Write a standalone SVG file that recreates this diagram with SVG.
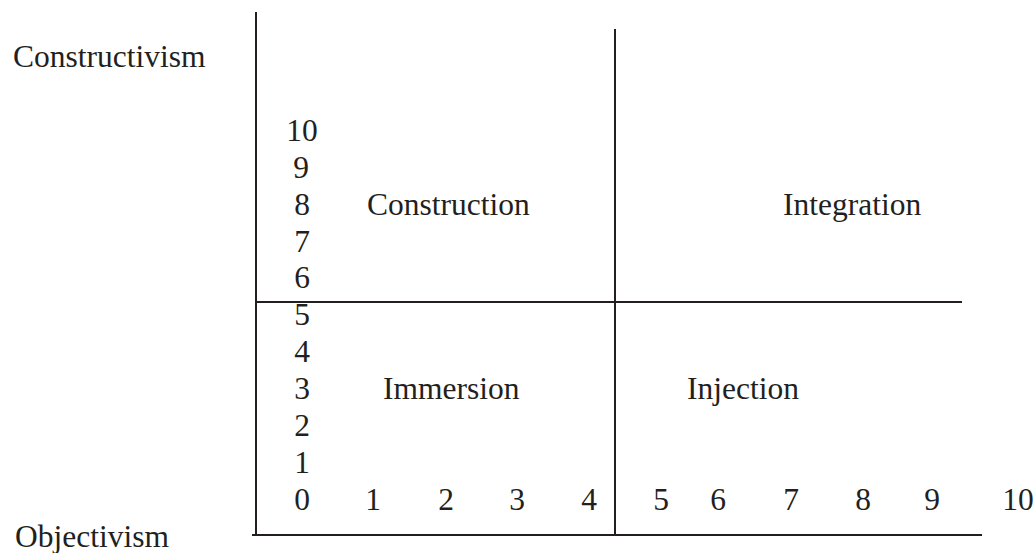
<svg xmlns="http://www.w3.org/2000/svg" width="1034" height="553" viewBox="0 0 1034 553">
  <style>
    .t { font-family: "Liberation Serif", "Times New Roman", serif; font-size: 31.5px; fill: #231f20; }
    .m { text-anchor: middle; }
    .ax { stroke: #231f20; stroke-width: 2; fill: none; }
  </style>
  <rect width="1034" height="553" fill="#ffffff"/>

  <!-- axes and quadrant dividers -->
  <g id="connectors">
    <line class="ax" x1="256" y1="12" x2="256" y2="535"/>
    <line class="ax" x1="615" y1="29" x2="615" y2="535"/>
    <line class="ax" x1="255" y1="302" x2="962" y2="302"/>
    <line class="ax" x1="252" y1="535" x2="982" y2="535"/>
  </g>

  <!-- pole labels -->
  <g id="pole-constructivism"><text class="t" x="13" y="67">Constructivism</text></g>
  <g id="pole-objectivism"><text class="t" x="15" y="547">Objectivism</text></g>

  <!-- quadrant labels -->
  <g id="q-construction"><text class="t" x="367" y="215">Construction</text></g>
  <g id="q-integration"><text class="t" x="783" y="215">Integration</text></g>
  <g id="q-immersion"><text class="t" x="383" y="399">Immersion</text></g>
  <g id="q-injection"><text class="t" x="687" y="399">Injection</text></g>

  <!-- vertical scale -->
  <g id="y-scale" class="t m">
    <text x="302" y="141">10</text>
    <text x="301" y="178">9</text>
    <text x="302" y="215">8</text>
    <text x="302" y="252">7</text>
    <text x="302" y="288">6</text>
    <text x="302" y="325">5</text>
    <text x="302" y="362">4</text>
    <text x="302" y="399">3</text>
    <text x="302" y="436">2</text>
    <text x="302" y="473">1</text>
    <text x="302" y="510">0</text>
  </g>

  <!-- horizontal scale -->
  <g id="x-scale" class="t m">
    <text x="373" y="510">1</text>
    <text x="446" y="510">2</text>
    <text x="517" y="510">3</text>
    <text x="589" y="510">4</text>
    <text x="661" y="510">5</text>
    <text x="718" y="510">6</text>
    <text x="791" y="510">7</text>
    <text x="863" y="510">8</text>
    <text x="932" y="510">9</text>
    <text x="1018" y="510">10</text>
  </g>
</svg>
